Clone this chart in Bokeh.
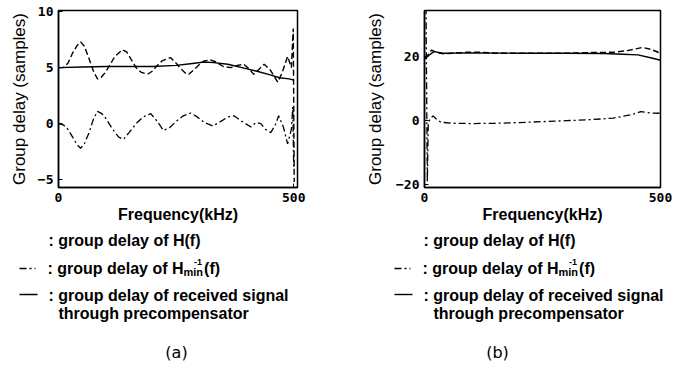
from bokeh.plotting import figure
from bokeh.layouts import row, column
from bokeh.models import FixedTicker, Range1d
from bokeh.core.properties import value
from bokeh.embed import file_html
from bokeh.resources import INLINE

# ---------------- data ----------------
# (a) group delay of H(f)  (dashed)
a_h_x = [0, 10, 20, 30, 40, 47, 55, 65, 75, 83, 90, 100, 110, 120, 136, 145, 155, 165, 175, 189,
         200, 210, 220, 238, 250, 260, 270, 277, 290, 300, 310, 323, 335, 350, 366, 380, 394, 405,
         415, 425, 437, 450, 466, 475, 487, 495, 499, 501]
a_h_y = [5.0, 5.0, 5.4, 6.3, 7.0, 7.3, 6.9, 5.8, 4.6, 4.0, 4.1, 4.6, 5.3, 6.0, 6.6, 6.4, 5.7, 5.0, 4.6, 4.4,
         4.7, 5.2, 5.6, 5.9, 5.4, 4.9, 4.5, 4.4, 4.9, 5.3, 5.6, 5.7, 5.5, 5.1, 5.0, 5.2, 5.3, 4.9,
         4.4, 4.8, 5.3, 4.8, 3.7, 4.5, 6.0, 5.0, 8.5, -5.2]
# (a) group delay of Hmin^-1(f)  (dash-dot)
a_m_x = [0, 10, 20, 30, 40, 47, 55, 65, 75, 83, 92, 100, 115, 128, 138, 150, 165, 180, 196, 210, 223,
         235, 250, 265, 281, 295, 310, 328, 345, 360, 373, 390, 409, 420, 430, 440, 451, 460, 468,
         478, 487, 495, 498, 500]
a_m_y = [0.0, -0.1, -0.5, -1.2, -1.9, -2.2, -1.8, -0.8, 0.5, 1.1, 0.9, 0.5, -0.5, -1.2, -1.4, -0.8, 0.0,
         0.6, 0.9, 0.2, -0.6, -0.4, 0.2, 0.7, 0.95, 0.6, 0.1, -0.2, 0.2, 0.6, 0.7, 0.2, -0.3, 0.1, 0.0,
         -0.5, -0.8, -0.2, 0.7, -0.3, -1.8, -0.5, 1.5, -4.0]
# (a) group delay of received signal through precompensator (solid)
a_r_x = [0, 50, 100, 150, 200, 250, 280, 310, 330, 360, 390, 420, 450, 470, 490, 500]
a_r_y = [5.0, 5.05, 5.1, 5.1, 5.1, 5.2, 5.35, 5.5, 5.45, 5.3, 5.0, 4.7, 4.35, 4.1, 4.0, 3.9]

# (b)
b_h_x = [0, 3, 8, 15, 25, 40, 60, 90, 120, 150, 180, 250, 300, 350, 400, 430, 462, 480, 500]
b_h_y = [19.5, 19.8, 20.5, 22.0, 21.3, 20.8, 21.0, 21.3, 21.3, 21.0, 21.0, 21.0, 21.0, 21.2, 21.3,
         21.8, 22.8, 22.2, 21.0]
b_m_x = [3, 5, 6, 8, 12, 18, 25, 35, 60, 100, 150, 200, 250, 300, 350, 400, 440, 458, 480, 500]
b_m_y = [40.0, 0.0, -19.0, -0.5, 0.5, 1.5, 0.5, -0.5, -0.8, -0.9, -0.8, -0.6, -0.3, 0.0, 0.3, 0.8,
         1.9, 2.8, 2.4, 2.3]
b_r_x = [0, 3, 8, 20, 40, 100, 200, 300, 380, 420, 452, 479, 500]
b_r_y = [19.3, 19.5, 20.2, 21.5, 21.0, 21.1, 21.0, 21.0, 20.9, 20.7, 20.5, 19.6, 18.8]

x_ticks = [0, 500]
a_y_ticks = [-5, 0, 5, 10]
b_y_ticks = [-20, 0, 20]

x_label = "Frequency(kHz)"
y_label = "Group delay (samples)"
leg1 = ": group delay of H(f)"
leg2 = ": group delay of H"
leg2_sub = "min"
leg2_sup = "-1"
leg2_end = "(f)"
leg3 = ": group delay of received signal"
leg4 = "through precompensator"

LEG_SIZE = 16.0
DASH = "6 3"
DASHDOT = "7 3 2 3"
TOP_H = 225
H = 365
W = 337


def make_fig(x_end, y_start, y_end, y_ticks, left, right, bottom, ylab_standoff):
    p = figure(width=W, height=TOP_H, output_backend="svg", toolbar_location=None,
               x_range=Range1d(0, x_end), y_range=Range1d(y_start, y_end),
               min_border_left=left, min_border_right=right, min_border_top=10,
               min_border_bottom=TOP_H - bottom)
    p.grid.visible = False
    p.outline_line_color = "black"
    p.outline_line_width = 1.5
    p.background_fill_color = "white"
    p.border_fill_color = "white"
    for ax in (p.xaxis[0], p.yaxis[0]):
        ax.major_tick_in = 4
        ax.major_tick_out = 0
        ax.minor_tick_line_color = None
        ax.axis_line_width = 1.5
        ax.major_label_text_font = "DejaVu Sans Mono"
        ax.major_label_text_font_style = "bold"
        ax.major_label_text_font_size = "13px"
        ax.major_label_text_color = "black"
        ax.axis_label_text_color = "black"
    p.xaxis[0].ticker = FixedTicker(ticks=x_ticks)
    p.yaxis[0].ticker = FixedTicker(ticks=y_ticks)
    p.xaxis[0].major_label_standoff = 5
    p.yaxis[0].major_label_standoff = 5
    p.xaxis[0].axis_label = x_label
    p.xaxis[0].axis_label_text_font = "Liberation Sans"
    p.xaxis[0].axis_label_text_font_style = "bold"
    p.xaxis[0].axis_label_text_font_size = "16px"
    p.xaxis[0].axis_label_standoff = 1
    p.yaxis[0].axis_label = y_label
    p.yaxis[0].axis_label_text_font = "Liberation Sans"
    p.yaxis[0].axis_label_text_font_style = "normal"
    p.yaxis[0].axis_label_text_font_size = "17px"
    p.yaxis[0].axis_label_standoff = ylab_standoff
    return p


# legend / caption strip spanning the whole page width; its ranges are page pixels
q = figure(width=2 * W, height=H - TOP_H, output_backend="svg", toolbar_location=None,
           x_range=Range1d(0, 2 * W), y_range=Range1d(H, TOP_H),
           min_border=0, min_border_left=0, min_border_right=0, min_border_top=0,
           min_border_bottom=0, x_axis_type=None, y_axis_type=None)
q.grid.visible = False
q.outline_line_color = None
q.background_fill_color = "white"
q.border_fill_color = "white"


def txt(x, y, t, size=LEG_SIZE, font="Liberation Sans", style="bold", align="left"):
    q.text(x=[x], y=[y], text=[t], text_font=value(font), text_font_style=style,
           text_font_size=value(f"{size}px"), text_baseline="middle", text_align=align,
           text_color="black")


def add_legend(ox, caption, cap_x):
    pre_w = 7.779 * LEG_SIZE
    h_w = 0.722 * LEG_SIZE
    min_w = 1.778 * 11
    txt(ox + 48, 240, leg1)
    q.line([ox + 19, ox + 35], [268, 268], line_color="black", line_width=1.4, line_dash=DASHDOT)
    txt(ox + 47, 268, leg2)
    hx = ox + 47 + pre_w + h_w
    txt(hx, 271, leg2_sub, size=11)
    txt(hx + min_w - 9, 261, leg2_sup, size=9)
    txt(hx + min_w + 1, 268, leg2_end)
    q.line([ox + 19, ox + 37], [294, 294], line_color="black", line_width=1.4)
    txt(ox + 48, 295, leg3)
    txt(ox + 58, 313, leg4)
    txt(cap_x, 352, caption, size=16, font="DejaVu Sans", style="normal", align="center")


# ---------------- panel (a) ----------------
pa = make_fig(508, -5.7, 10.1, a_y_ticks, 58, 40, 187, 6)
pa.line(a_r_x, a_r_y, line_color="black", line_width=1.4)
pa.line(a_h_x, a_h_y, line_color="black", line_width=1.4, line_dash=DASH)
pa.line(a_m_x, a_m_y, line_color="black", line_width=1.3, line_dash=DASHDOT)
add_legend(0, "(a)", 176)

# ---------------- panel (b) ----------------
pb = make_fig(500, -20.8, 34.3, b_y_ticks, 87, 14, 188, 8)
pb.line(b_r_x, b_r_y, line_color="black", line_width=1.4)
pb.line(b_h_x, b_h_y, line_color="black", line_width=1.4, line_dash=DASH)
pb.line(b_m_x, b_m_y, line_color="black", line_width=1.3, line_dash=DASHDOT)
add_legend(375, "(b)", 497)

layout = column(row(pa, pb), q)
open("out.html", "w").write(file_html(layout, INLINE))
